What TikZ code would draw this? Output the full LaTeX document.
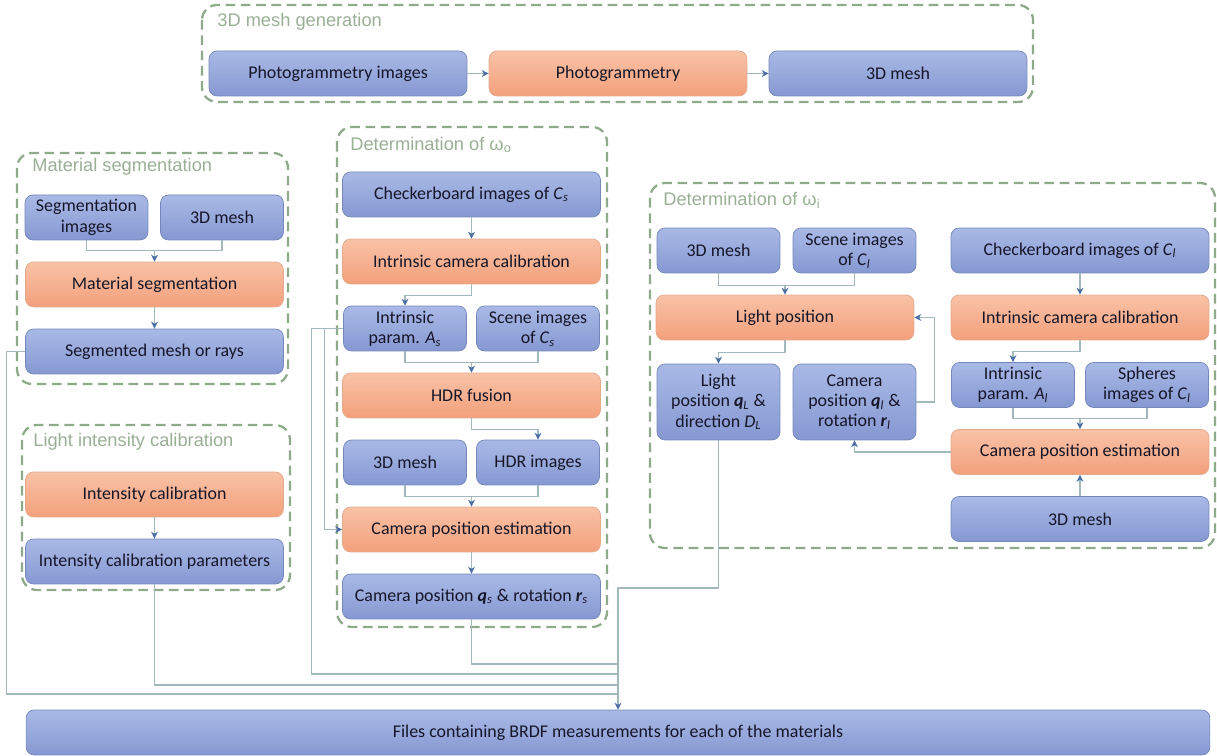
\documentclass[tikz,border=0pt]{standalone}
\usepackage{fontspec}
\setmainfont{Carlito}
\newfontfamily\titlefont{Liberation Sans}
\usepackage{xcolor}
\usepackage{tikz}
\usetikzlibrary{arrows.meta}
\usetikzlibrary{positioning}

\definecolor{blueTop}{HTML}{A9B9E6}
\definecolor{blueBot}{HTML}{8698D2}
\definecolor{blueLine}{HTML}{7388B8}
\definecolor{orTop}{HTML}{F9C2A6}
\definecolor{orBot}{HTML}{F3A07C}
\definecolor{orLine}{HTML}{E3A98D}
\definecolor{frameGreen}{HTML}{8FAA8B}
\definecolor{titleGreen}{HTML}{9AAF96}
\definecolor{wireGray}{HTML}{A2B8BA}
\definecolor{tipBlue}{HTML}{4A6DA6}
\definecolor{ink}{HTML}{161628}

\newcommand{\mi}[2]{\textit{#1}\textsubscript{\textit{#2}}}
\newcommand{\bmi}[2]{\textbf{\textit{#1}}\textsubscript{\textit{#2}}}

\begin{document}
\begin{tikzpicture}[
  x=0.02cm, y=-0.02cm,
  box/.style={rectangle,rounded corners=0.16cm,align=center,text=ink,
    font=\fontsize{10.2}{11.6}\selectfont,inner sep=1pt,minimum height=0.9cm},
  data/.style={box,draw=blueLine,top color=blueTop,bottom color=blueBot},
  proc/.style={box,draw=orLine,top color=orTop,bottom color=orBot},
  wide/.style={minimum width=5.16cm},
  half/.style={minimum width=2.46cm},
  tall/.style={minimum height=1.52cm},
  group/.style={draw=frameGreen,line width=1.3pt,dash pattern=on 5.5pt off 3.2pt,rounded corners=0.3cm},
  title/.style={anchor=west,inner sep=0pt,text=titleGreen,font=\titlefont\fontsize{10.4}{12}\selectfont},
  wire/.style={draw=wireGray,line width=0.6pt},
  >={Stealth[length=4pt,width=4pt,color=tipBlue]}
]
  \useasboundingbox (0,0) rectangle (1217,756);

  % groups
  \draw[group] (202,5) rectangle (1033,102);
  \draw[group] (17,153) rectangle (288,384);
  \draw[group] (22,425) rectangle (290,590);
  \draw[group] (337,127) rectangle (607,627);
  \draw[group] (650,183) rectangle (1215,548);

  \node[title] (tgen) at (217,22)  {3D mesh generation};
  \node[title] (tmat) at (32,167)  {Material segmentation};
  \node[title] (tlic) at (33,442)  {Light intensity calibration};
  \node[title] (two)  at (350,145) {Determination of ω\textsubscript{o}};
  \node[title] (twi)  at (663,200) {Determination of ω\textsubscript{i}};

  % 3D mesh generation
  \node[data,wide] (pimg)  at (338,73.5) {Photogrammetry images};
  \node[proc,wide] (pgm)   at (618,73.5) {Photogrammetry};
  \node[data,wide] (pmesh) at (898,73.5) {3D mesh};

  \draw[wire,->] (pimg) -- (pgm);
  \draw[wire,->] (pgm) -- (pmesh);

  % material segmentation
  \node[data,half] (segimg)  at (86.5,217.5) {Segmentation\\images};
  \node[data,half] (segmesh) at (222,217.5)  {3D mesh};
  \node[proc,wide] (matseg)  at (154.5,284.5) {Material segmentation};
  \node[data,wide] (segm)    at (154.5,351.5) {Segmented mesh or rays};

  \draw[wire] (segimg.south) -- ++(0,10) -| (segmesh.south);
  \draw[wire,->] (matseg.north |- 0,250) -- (matseg.north);
  \draw[wire,->] (matseg) -- (segm);

  % light intensity calibration
  \node[proc,wide] (icpcal) at (154.5,494.5) {Intensity calibration};
  \node[data,wide] (icp)    at (154.5,561.5) {Intensity calibration parameters};

  \draw[wire,->] (icpcal) -- (icp);

  % determination of omega_o
  \node[data,wide] (cbs)   at (471.5,194.5) {Checkerboard images of \mi{C}{s}};
  \node[proc,wide] (icals) at (471.5,261.5) {Intrinsic camera calibration};
  \node[data,half] (ips)   at (405,328.5)   {Intrinsic\\param. \mi{A}{s}};
  \node[data,half] (scs)   at (538,328.5)   {Scene images\\of \mi{C}{s}};
  \node[proc,wide] (hdr)   at (471.5,395.5) {HDR fusion};
  \node[data,half] (mesho) at (405,462.5)   {3D mesh};
  \node[data,half] (hdri)  at (538,462.5)   {HDR images};
  \node[proc,wide] (cpes)  at (471.5,529.5) {Camera position estimation};
  \node[data,wide] (camqs) at (471.5,596.5) {Camera position \bmi{q}{s} \& rotation \bmi{r}{s}};

  \draw[wire,->] (cbs) -- (icals);
  \draw[wire,->] (icals.south) -- ++(0,11) -| (ips.north);
  \draw[wire] (ips.south) -- ++(0,11) -| (scs.south);
  \draw[wire,->] (hdr.north |- 0,362) -- (hdr.north);
  \draw[wire,->] (hdr.south) -- ++(0,11) -| (hdri.north);
  \draw[wire] (mesho.south) -- ++(0,11) -| (hdri.south);
  \draw[wire,->] (cpes.north |- 0,496) -- (cpes.north);
  \draw[wire,->] (cpes) -- (camqs);
  \draw[wire,->] ([xshift=-0.38cm]ips.west) |- (cpes.west);

  % determination of omega_i
  \node[data,half] (meshi) at (718.5,250.5) {3D mesh};
  \node[data,half] (scl)   at (854.5,250.5) {Scene images\\of \mi{C}{l}};
  \node[proc,wide] (lpos)  at (785,317.5)   {Light position};
  \node[data,half,tall] (lq)    at (718.5,402) {Light\\position \bmi{q}{L} \&\\direction \mi{D}{L}};
  \node[data,half,tall] (camql) at (854.5,402) {Camera\\position \bmi{q}{l} \&\\rotation \bmi{r}{l}};
  \node[data,wide] (cbl)   at (1080,250.5) {Checkerboard images of \mi{C}{l}};
  \node[proc,wide] (icall) at (1080,317.5) {Intrinsic camera calibration};
  \node[data,half] (ipl)   at (1013,385)   {Intrinsic\\param. \mi{A}{l}};
  \node[data,half] (sph)   at (1147,385)   {Spheres\\images of \mi{C}{l}};
  \node[proc,wide] (cpel)  at (1080,452)   {Camera position estimation};
  \node[data,wide] (meshl) at (1080,519)   {3D mesh};

  \draw[wire] (meshi.south) -- ++(0,12) -| (scl.south);
  \draw[wire,->] (lpos.north |- 0,285) -- (lpos.north);
  \draw[wire,->] (lpos.south) -- ++(0,12) -| (lq.north);
  \draw[wire,->] (camql.east) -- ++(18,0) |- (lpos.east);
  \draw[wire,->] (cbl) -- (icall);
  \draw[wire,->] (icall.south) -- ++(0,11) -| (ipl.north);
  \draw[wire] (ipl.south) -- ++(0,11) -| (sph.south);
  \draw[wire,->] (cpel.north |- 0,418) -- (cpel.north);
  \draw[wire,->] (meshl) -- (cpel);
  \draw[wire,->] (cpel.west) -| (camql.south);

  % output
  \node[data,minimum width=23.68cm] (files) at (618,732.5)
    {Files containing BRDF measurements for each of the materials};

  \draw[wire,->] (lq.south) |- (files.north |- 0,588) -- (files.north);
  \draw[wire] (camqs.south) |- (files.north |- 0,664);
  \draw[wire] (ips.west) -- ++(-32,0) |- (files.north |- 0,674);
  \draw[wire] (icp.south) |- (files.north |- 0,685);
  \draw[wire] (segm.west) -- ++(-19,0) |- (files.north |- 0,694);
\end{tikzpicture}
\end{document}
